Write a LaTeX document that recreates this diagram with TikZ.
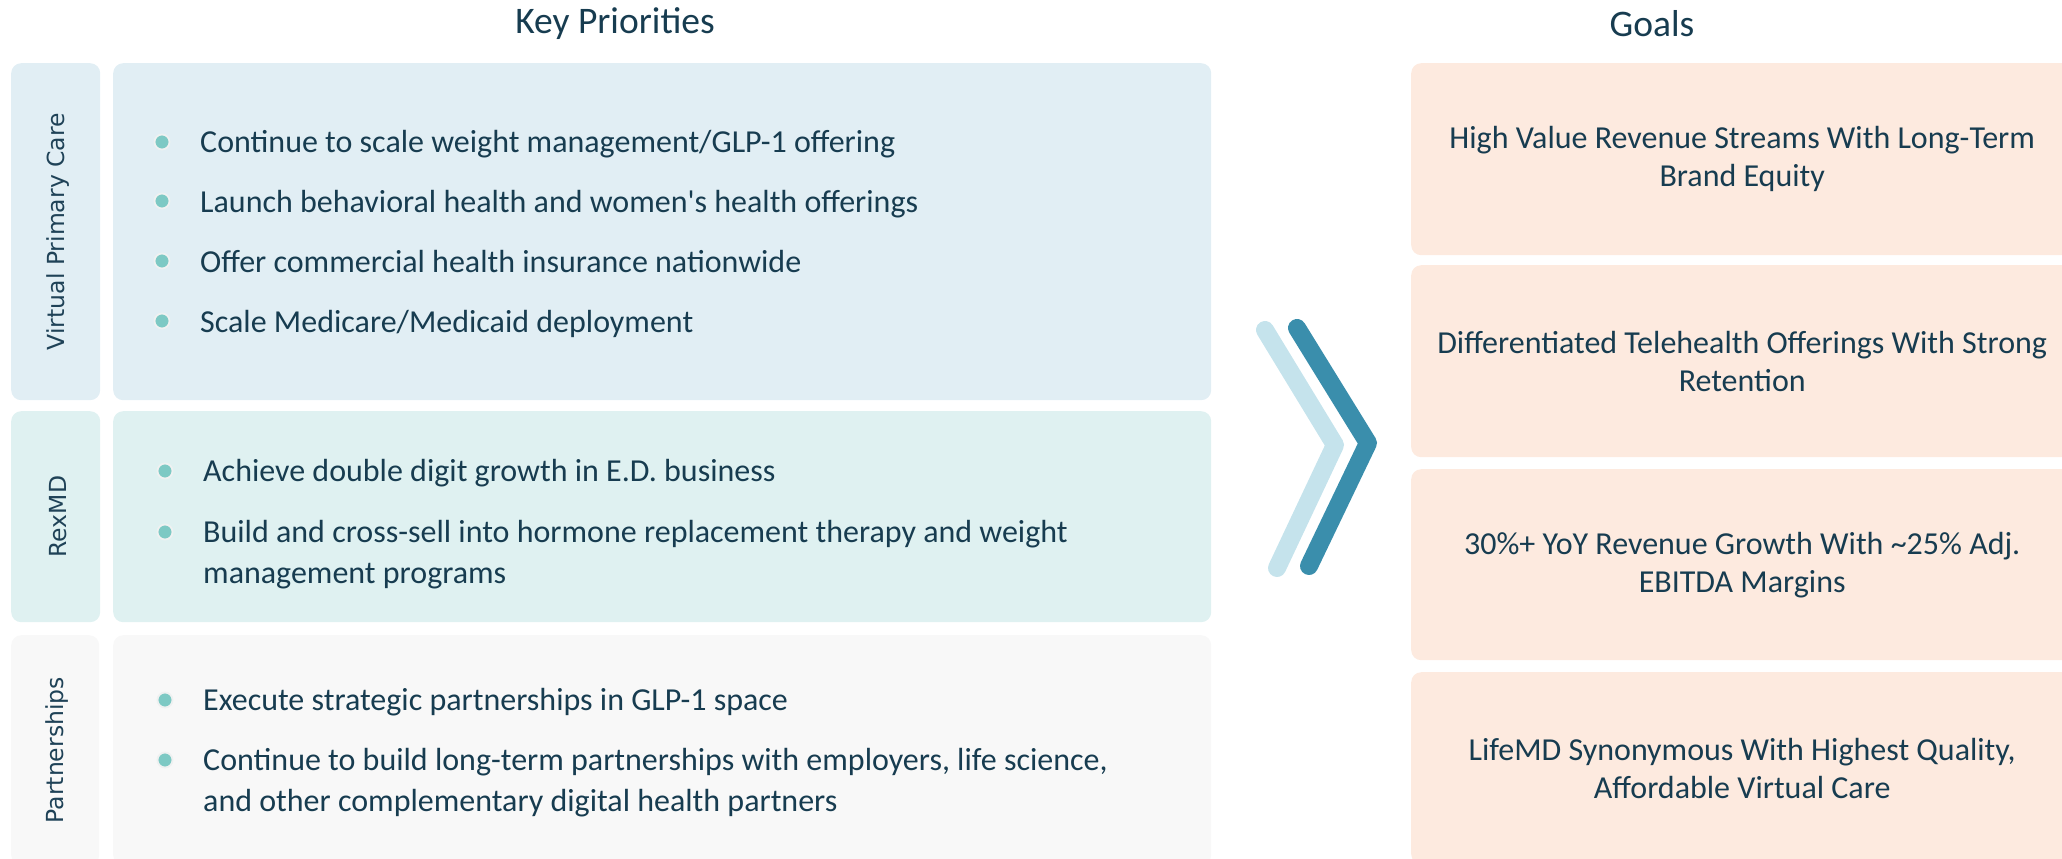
\documentclass[tikz,border=0pt]{standalone}
\usepackage{fontspec}
\setmainfont{Carlito}
\newfontfamily\tagfont{DejaVu Sans}
\definecolor{ink}{HTML}{173C50}
\definecolor{tagink}{HTML}{1F4257}
\definecolor{rowA}{HTML}{E1EEF4}
\definecolor{rowB}{HTML}{DFF1F1}
\definecolor{rowC}{HTML}{F8F8F8}
\definecolor{goalfill}{HTML}{FDEADF}
\definecolor{chevlight}{HTML}{C5E3EC}
\definecolor{chevdark}{HTML}{3A8EAC}
\definecolor{dotfill}{HTML}{7DC9C4}
\definecolor{dotring}{HTML}{EFF1F1}
\begin{document}
\begin{tikzpicture}[x=1pt,y=-1pt,
  panel/.style={rectangle, rounded corners=10pt, draw=none, anchor=north west, inner sep=0pt},
  tagtext/.style={rotate=90, text=tagink, font=\tagfont\fontsize{23.5}{28}\selectfont},
  item/.style={anchor=base west, inner sep=0pt, align=left, text=ink, font=\fontsize{32}{41}\selectfont},
  goaltext/.style={align=center, text=ink, font=\fontsize{32}{38}\selectfont},
  heading/.style={text=ink, font=\fontsize{37.5}{42}\selectfont},
  dot/.style={circle, minimum size=15pt, inner sep=0pt, fill=dotfill, draw=dotring, line width=1.8pt},
  chev/.style={line width=18pt, line cap=round, line join=round}]
\useasboundingbox (0,0) rectangle (2062,859);

% column headings
\node[heading] (hKey) at (615,24) {Key Priorities};
\node[heading] (hGoals) at (1652,24) {Goals};

% left-hand rows: tag column and content panel
\node[panel, fill=rowA, minimum width=89, minimum height=337] (tagA) at (11,63) {};
\node[panel, fill=rowA, minimum width=1098, minimum height=337] (boxA) at (113,63) {};
\node[panel, fill=rowB, minimum width=89, minimum height=211] (tagB) at (11,411) {};
\node[panel, fill=rowB, minimum width=1098, minimum height=211] (boxB) at (113,411) {};
\node[panel, fill=rowC, minimum width=88, minimum height=230] (tagC) at (11,635) {};
\node[panel, fill=rowC, minimum width=1098, minimum height=230] (boxC) at (113,635) {};

\node[tagtext] (tA) at ([xshift=2pt]tagA.center) {Virtual Primary Care};
\node[tagtext] (tB) at ([xshift=2pt]tagB.center) {RexMD};
\node[tagtext] (tC) at ([xshift=2pt]tagC.center) {Partnerships};

% Virtual Primary Care items
\node[dot] (dA1) at (162,142) {};
\node[item] (iA1) at (200,152) {Continue to scale weight management/GLP-1 offering};
\node[dot] (dA2) at (162,201) {};
\node[item] (iA2) at (200,212) {Launch behavioral health and women\textquotesingle s health offerings};
\node[dot] (dA3) at (162,261) {};
\node[item] (iA3) at (200,272) {Offer commercial health insurance nationwide};
\node[dot] (dA4) at (162,321) {};
\node[item] (iA4) at (200,332) {Scale Medicare/Medicaid deployment};

% RexMD items (two-line items are anchored on their last baseline)
\node[dot] (dB1) at (165,471) {};
\node[item] (iB1) at (203,481) {Achieve double digit growth in E.D. business};
\node[dot] (dB2) at (165,532) {};
\node[item] (iB2) at (203,583) {Build and cross-sell into hormone replacement therapy and weight\\management programs};

% Partnerships items
\node[dot] (dC1) at (165,700) {};
\node[item] (iC1) at (203,710) {Execute strategic partnerships in GLP-1 space};
\node[dot] (dC2) at (165,760) {};
\node[item] (iC2) at (203,811) {Continue to build long-term partnerships with employers, life science,\\and other complementary digital health partners};

% double chevron
\draw[chev, chevlight] (1265,330) -- (1335,445) -- (1277,568);
\draw[chev, chevdark] (1297,328) -- (1368,443) -- (1309,566);

% goals column
\node[panel, fill=goalfill, minimum width=662, minimum height=192] (g1) at (1411,63) {};
\node[panel, fill=goalfill, minimum width=662, minimum height=192] (g2) at (1411,265) {};
\node[panel, fill=goalfill, minimum width=662, minimum height=191] (g3) at (1411,469) {};
\node[panel, fill=goalfill, minimum width=662, minimum height=192] (g4) at (1411,672) {};

\node[goaltext] (gt1) at (g1.center) {High Value Revenue Streams With Long-Term\\Brand Equity};
\node[goaltext] (gt2) at (g2.center) {Differentiated Telehealth Offerings With Strong\\Retention};
\node[goaltext] (gt3) at (g3.center) {30\%+ YoY Revenue Growth With \textasciitilde25\% Adj.\\EBITDA Margins};
\node[goaltext] (gt4) at (g4.center) {LifeMD Synonymous With Highest Quality,\\Affordable Virtual Care};
\end{tikzpicture}
\end{document}
